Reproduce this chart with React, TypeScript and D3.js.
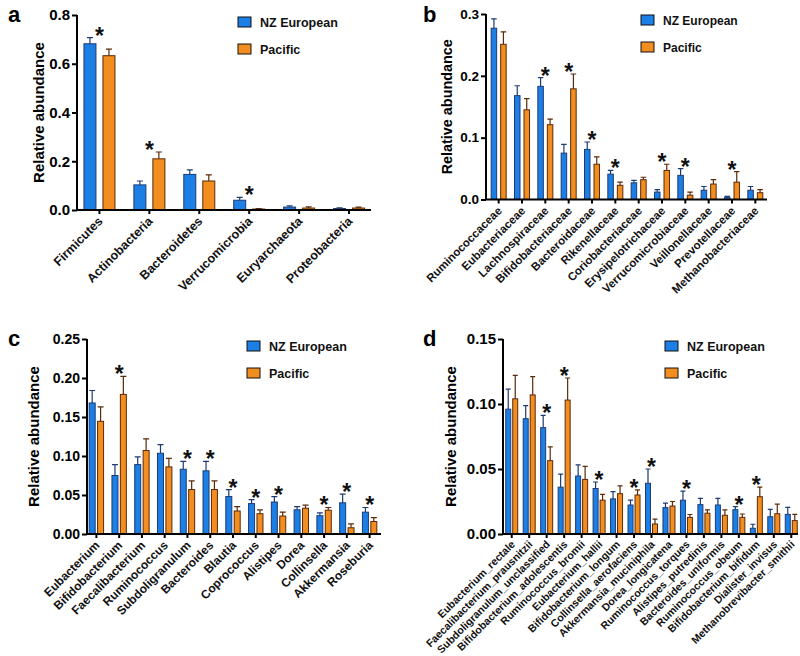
import React, { useEffect, useRef } from 'react';
import * as d3 from 'd3';

// ---- data ----
const phylaCats = ['Firmicutes', 'Actinobacteria', 'Bacteroidetes', 'Verrucomicrobia', 'Euryarchaeota', 'Proteobacteria'];
const phylaNZ = [0.682, 0.103, 0.146, 0.04, 0.012, 0.006];
const phylaNZErr = [0.025, 0.016, 0.019, 0.012, 0.005, 0.003];
const phylaPac = [0.633, 0.21, 0.119, 0.004, 0.008, 0.008];
const phylaPacErr = [0.027, 0.028, 0.025, 0.002, 0.005, 0.004];
const phylaSig = [true, true, false, true, false, false];

const familyCats = ['Ruminococcaceae', 'Eubacteriaceae', 'Lachnospiraceae', 'Bifidobacteriaceae', 'Bacteroidaceae', 'Rikenellaceae', 'Coriobacteriaceae', 'Erysipelotrichaceae', 'Verrucomicrobiaceae', 'Veillonellaceae', 'Prevotellaceae', 'Methanobacteriaceae'];
const familyNZ = [0.277, 0.168, 0.183, 0.075, 0.081, 0.041, 0.027, 0.012, 0.039, 0.015, 0.003, 0.015];
const familyNZErr = [0.015, 0.016, 0.014, 0.014, 0.012, 0.006, 0.004, 0.004, 0.011, 0.006, 0.002, 0.006];
const familyPac = [0.251, 0.145, 0.121, 0.179, 0.057, 0.023, 0.032, 0.047, 0.007, 0.025, 0.028, 0.011];
const familyPacErr = [0.02, 0.018, 0.009, 0.024, 0.012, 0.005, 0.004, 0.01, 0.005, 0.007, 0.017, 0.005];
const familySig = [false, false, true, true, true, true, false, true, true, false, true, false];

const genusCats = ['Eubacterium', 'Bifidobacterium', 'Faecalibacterium', 'Ruminococcus', 'Subdoligranulum', 'Bacteroides', 'Blautia', 'Coprococcus', 'Alistipes', 'Dorea', 'Collinsella', 'Akkermansia', 'Roseburia'];
const genusNZ = [0.168, 0.075, 0.089, 0.1035, 0.083, 0.081, 0.048, 0.039, 0.041, 0.031, 0.0235, 0.04, 0.028];
const genusNZErr = [0.016, 0.014, 0.01, 0.011, 0.01, 0.012, 0.009, 0.005, 0.007, 0.004, 0.0035, 0.011, 0.006];
const genusPac = [0.1445, 0.179, 0.107, 0.086, 0.057, 0.057, 0.0295, 0.026, 0.023, 0.033, 0.0305, 0.008, 0.016];
const genusPacErr = [0.0185, 0.023, 0.015, 0.011, 0.011, 0.011, 0.0055, 0.005, 0.005, 0.004, 0.0035, 0.005, 0.005];
const genusSig = [false, true, false, false, true, true, true, true, true, false, true, true, true];

const speciesCats = ['Eubacterium_rectale', 'Faecalibacterium_prausnitzii', 'Subdoligranulum_unclassified', 'Bifidobacterium_adolescentis', 'Ruminococcus_bromii', 'Eubacterium_hallii', 'Bifidobacterium_longum', 'Collinsella_aerofaciens', 'Akkermansia_muciniphila', 'Dorea_longicatena', 'Ruminococcus_torques', 'Alistipes_putredinis', 'Bacteroides_uniformis', 'Ruminococcus_obeum', 'Bifidobacterium_bifidum', 'Dialister_invisus', 'Methanobrevibacter_smithii'];
const speciesNZ = [0.096, 0.0887, 0.0818, 0.036, 0.0446, 0.035, 0.027, 0.0223, 0.039, 0.0203, 0.026, 0.0226, 0.0223, 0.0187, 0.0044, 0.0133, 0.0151];
const speciesNZErr = [0.0155, 0.01, 0.0095, 0.01, 0.0085, 0.005, 0.0056, 0.0038, 0.011, 0.0035, 0.007, 0.0048, 0.0051, 0.0023, 0.0031, 0.0057, 0.0054];
const speciesPac = [0.104, 0.107, 0.0564, 0.103, 0.042, 0.026, 0.031, 0.03, 0.0077, 0.0215, 0.0128, 0.016, 0.0144, 0.0128, 0.0287, 0.0156, 0.0103];
const speciesPacErr = [0.018, 0.014, 0.0106, 0.017, 0.01, 0.0045, 0.006, 0.004, 0.0038, 0.0035, 0.0022, 0.0025, 0.0041, 0.0026, 0.0073, 0.0074, 0.0048];
const speciesSig = [false, false, true, true, false, true, false, true, true, false, true, false, false, true, true, false, false];

const groups = ['NZ European', 'Pacific'];

const BLUE = '#1b7fe6';
const BLUE_STROKE = '#1d3b73';
const ORANGE = '#f28d1f';
const ORANGE_STROKE = '#5b2a08';

interface PanelCfg {
  letter: string;
  cats: string[];
  nz: number[];
  nzErr: number[];
  pac: number[];
  pacErr: number[];
  sig: boolean[];
  yMax: number;
  yStep: number;
  fmt: string;
  axisX: number;   // y axis position
  axisEnd: number; // end of x axis line
  band0: number;   // band range
  band1: number;
  zeroY: number;
  topY: number;
  barW: number;
  gap: number;
  tickFont: number;
  catFont: number;
  catDy: number;
  titleFont: number;
  titleX: number;
  legendX: number;
  legendY: number;
  legendFont: number;
  letterX: number;
  letterY: number;
}

const panels: PanelCfg[] = [
  {
    letter: 'a', cats: phylaCats, nz: phylaNZ, nzErr: phylaNZErr, pac: phylaPac, pacErr: phylaPacErr, sig: phylaSig,
    yMax: 0.8, yStep: 0.2, fmt: '.1f', axisX: 77, axisEnd: 371, band0: 74.5, band1: 374, zeroY: 210, topY: 15, barW: 12, gap: 7,
    tickFont: 15, catFont: 12.5, catDy: 12, titleFont: 15, titleX: 44, legendX: 238, legendY: 17, legendFont: 12.5, letterX: 8, letterY: 22,
  },
  {
    letter: 'b', cats: familyCats, nz: familyNZ, nzErr: familyNZErr, pac: familyPac, pacErr: familyPacErr, sig: familySig,
    yMax: 0.3, yStep: 0.1, fmt: '.1f', axisX: 486, axisEnd: 767, band0: 487, band1: 767, zeroY: 199.5, topY: 14, barW: 5.5, gap: 4,
    tickFont: 13.5, catFont: 11.5, catDy: 12, titleFont: 14.4, titleX: 452, legendX: 641, legendY: 15, legendFont: 12, letterX: 423, letterY: 22,
  },
  {
    letter: 'c', cats: genusCats, nz: genusNZ, nzErr: genusNZErr, pac: genusPac, pacErr: genusPacErr, sig: genusSig,
    yMax: 0.25, yStep: 0.05, fmt: '.2f', axisX: 87, axisEnd: 381, band0: 85, band1: 381, zeroY: 534, topY: 339, barW: 6, gap: 2.4,
    tickFont: 14, catFont: 12, catDy: 12, titleFont: 15, titleX: 39, legendX: 247, legendY: 341, legendFont: 12.5, letterX: 8, letterY: 346,
  },
  {
    letter: 'd', cats: speciesCats, nz: speciesNZ, nzErr: speciesNZErr, pac: speciesPac, pacErr: speciesPacErr, sig: speciesSig,
    yMax: 0.15, yStep: 0.05, fmt: '.2f', axisX: 503, axisEnd: 798, band0: 503, band1: 800, zeroY: 534, topY: 339, barW: 5, gap: 2,
    tickFont: 15, catFont: 10.6, catDy: 11, titleFont: 15, titleX: 456, legendX: 665, legendY: 341, legendFont: 12.5, letterX: 423, letterY: 346,
  },
];

const FONT = "'Liberation Sans', Arial, Helvetica, sans-serif";

function drawPanel(svg: d3.Selection<SVGSVGElement, unknown, null, undefined>, p: PanelCfg) {
  const g = svg.append('g');

  const x = d3.scaleBand<string>().domain(p.cats).range([p.band0, p.band1]);
  const y = d3.scaleLinear().domain([0, p.yMax]).range([p.zeroY, p.topY]);

  const series = [
    { vals: p.nz, errs: p.nzErr, fill: BLUE, stroke: BLUE_STROKE, off: -p.gap / 2 - p.barW },
    { vals: p.pac, errs: p.pacErr, fill: ORANGE, stroke: ORANGE_STROKE, off: p.gap / 2 },
  ];

  const center = (c: string) => (x(c) ?? 0) + x.bandwidth() / 2;

  series.forEach(s => {
    const sg = g.append('g');
    // error bars (upper only)
    sg.selectAll('path.err')
      .data(p.cats)
      .enter()
      .append('path')
      .attr('d', (c, i) => {
        const cx = center(c) + s.off + p.barW / 2;
        const yt = y(s.vals[i] + s.errs[i]);
        const cap = Math.min(3, p.barW / 2);
        return `M${cx},${y(s.vals[i])}V${yt}M${cx - cap},${yt}H${cx + cap}`;
      })
      .attr('stroke', s.stroke)
      .attr('stroke-width', 1.2)
      .attr('fill', 'none');
    sg.selectAll('rect')
      .data(p.cats)
      .enter()
      .append('rect')
      .attr('x', c => center(c) + s.off)
      .attr('y', (c, i) => y(s.vals[i]))
      .attr('width', p.barW)
      .attr('height', (c, i) => p.zeroY - y(s.vals[i]))
      .attr('fill', s.fill)
      .attr('stroke', s.stroke)
      .attr('stroke-width', 1);
  });

  // significance stars
  g.selectAll('text.star')
    .data(p.cats.filter((c, i) => p.sig[i]))
    .enter()
    .append('text')
    .attr('x', c => center(c))
    .attr('y', c => {
      const i = p.cats.indexOf(c);
      const top = Math.min(y(p.nz[i] + p.nzErr[i]), y(p.pac[i] + p.pacErr[i]));
      return top + 6;
    })
    .attr('text-anchor', 'middle')
    .attr('font-family', FONT)
    .attr('font-weight', 'bold')
    .attr('font-size', 23)
    .attr('fill', '#111')
    .text('*');

  // y axis
  const ticks = d3.range(0, p.yMax + p.yStep / 2, p.yStep);
  const yAxis = g.append('g')
    .attr('transform', `translate(${p.axisX},0)`)
    .call(d3.axisLeft(y).tickValues(ticks).tickFormat(d3.format(p.fmt)).tickSize(5).tickSizeOuter(0));
  yAxis.selectAll('path, line').attr('stroke', '#000').attr('stroke-width', 2);
  yAxis.select('.domain').attr('d', `M0,${p.zeroY}V${p.topY}`);
  yAxis.selectAll('text')
    .attr('font-family', FONT)
    .attr('font-weight', 'bold')
    .attr('font-size', p.tickFont)
    .attr('fill', '#000')
    .attr('x', -7);

  // x axis
  const xAxis = g.append('g')
    .attr('transform', `translate(0,${p.zeroY})`)
    .call(d3.axisBottom(x).tickSize(4).tickSizeOuter(0));
  xAxis.selectAll('path, line').attr('stroke', '#000').attr('stroke-width', 2);
  xAxis.select('.domain').attr('d', `M${p.axisX - 1},0H${p.axisEnd}`);
  xAxis.selectAll('text')
    .attr('font-family', FONT)
    .attr('font-weight', 'bold')
    .attr('font-size', p.catFont)
    .attr('fill', '#111')
    .attr('text-anchor', 'end')
    .attr('y', 0)
    .attr('dy', 0)
    .attr('transform', `translate(4,${p.catDy}) rotate(-45)`);

  // y title
  g.append('text')
    .attr('transform', `translate(${p.titleX},${(p.zeroY + p.topY) / 2}) rotate(-90)`)
    .attr('text-anchor', 'middle')
    .attr('font-family', FONT)
    .attr('font-weight', 'bold')
    .attr('font-size', p.titleFont)
    .attr('fill', '#000')
    .text('Relative abundance');

  // panel letter
  g.append('text')
    .attr('x', p.letterX)
    .attr('y', p.letterY)
    .attr('font-family', FONT)
    .attr('font-weight', 'bold')
    .attr('font-size', 22)
    .attr('fill', '#000')
    .text(p.letter);

  // legend
  const leg = g.append('g').attr('transform', `translate(${p.legendX},${p.legendY})`);
  groups.forEach((name, i) => {
    const row = leg.append('g').attr('transform', `translate(0,${i * 27})`);
    row.append('rect')
      .attr('width', 13)
      .attr('height', 10)
      .attr('fill', i === 0 ? BLUE : ORANGE)
      .attr('stroke', '#111')
      .attr('stroke-width', 1);
    row.append('text')
      .attr('x', 22)
      .attr('y', 10)
      .attr('font-family', FONT)
      .attr('font-weight', 'bold')
      .attr('font-size', p.legendFont)
      .attr('fill', '#111')
      .text(name);
  });
}

const App: React.FC = () => {
  const ref = useRef<SVGSVGElement | null>(null);

  useEffect(() => {
    if (!ref.current) return;
    const svg = d3.select(ref.current);
    svg.selectAll('*').remove();
    panels.forEach(p => drawPanel(svg, p));
  }, []);

  return (
    <svg
      ref={ref}
      width={800}
      height={656}
      style={{ position: 'absolute', left: 0, top: 0, background: '#fff' }}
    />
  );
};

export default App;
